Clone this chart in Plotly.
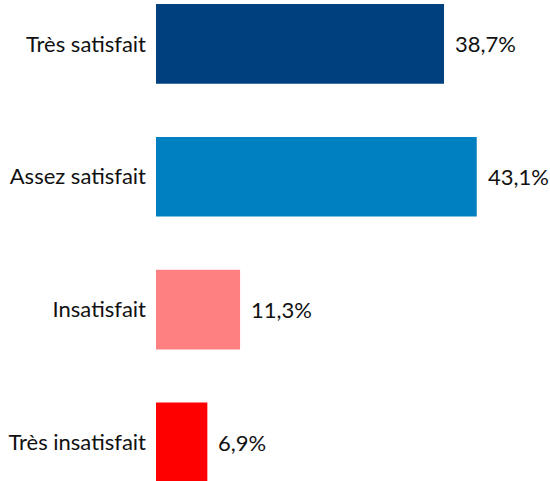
import plotly.graph_objects as go

categories = ["Très satisfait", "Assez satisfait", "Insatisfait", "Très insatisfait"]
values = [38.7, 43.1, 11.3, 6.9]
colors = ["#00407F", "#0080C0", "#FF8080", "#FF0000"]
labels = [f"{v:.1f}".replace(".", ",") + "%" for v in values]

FONT = "Lato"

fig = go.Figure()
fig.add_trace(go.Bar(
    x=values,
    y=categories,
    orientation="h",
    marker=dict(color=colors, line=dict(width=0)),
    width=0.6,
    hoverinfo="skip",
))

for c, v, t in zip(categories, values, labels):
    fig.add_annotation(
        x=v, y=c, text=t, showarrow=False,
        xanchor="left", yanchor="middle", xshift=9,
        font=dict(family=FONT, size=22, color="#111111"),
    )

fig.update_layout(
    width=550, height=481,
    margin=dict(l=156, r=7, t=0, b=0),
    paper_bgcolor="white", plot_bgcolor="white",
    showlegend=False,
    xaxis=dict(range=[0, 52], visible=False, fixedrange=True),
    yaxis=dict(
        type="category",
        categoryorder="array", categoryarray=categories,
        range=[3.291, -0.331],
        showgrid=False, zeroline=False, showline=False,
        ticks="", ticklabelstandoff=9,
        tickfont=dict(family=FONT, size=22, color="#111111"),
        fixedrange=True,
    ),
)

fig.write_html(
    "out.html",
    config={"displayModeBar": False},
    post_script="document.body.style.margin='0';document.body.style.overflow='hidden';",
)
